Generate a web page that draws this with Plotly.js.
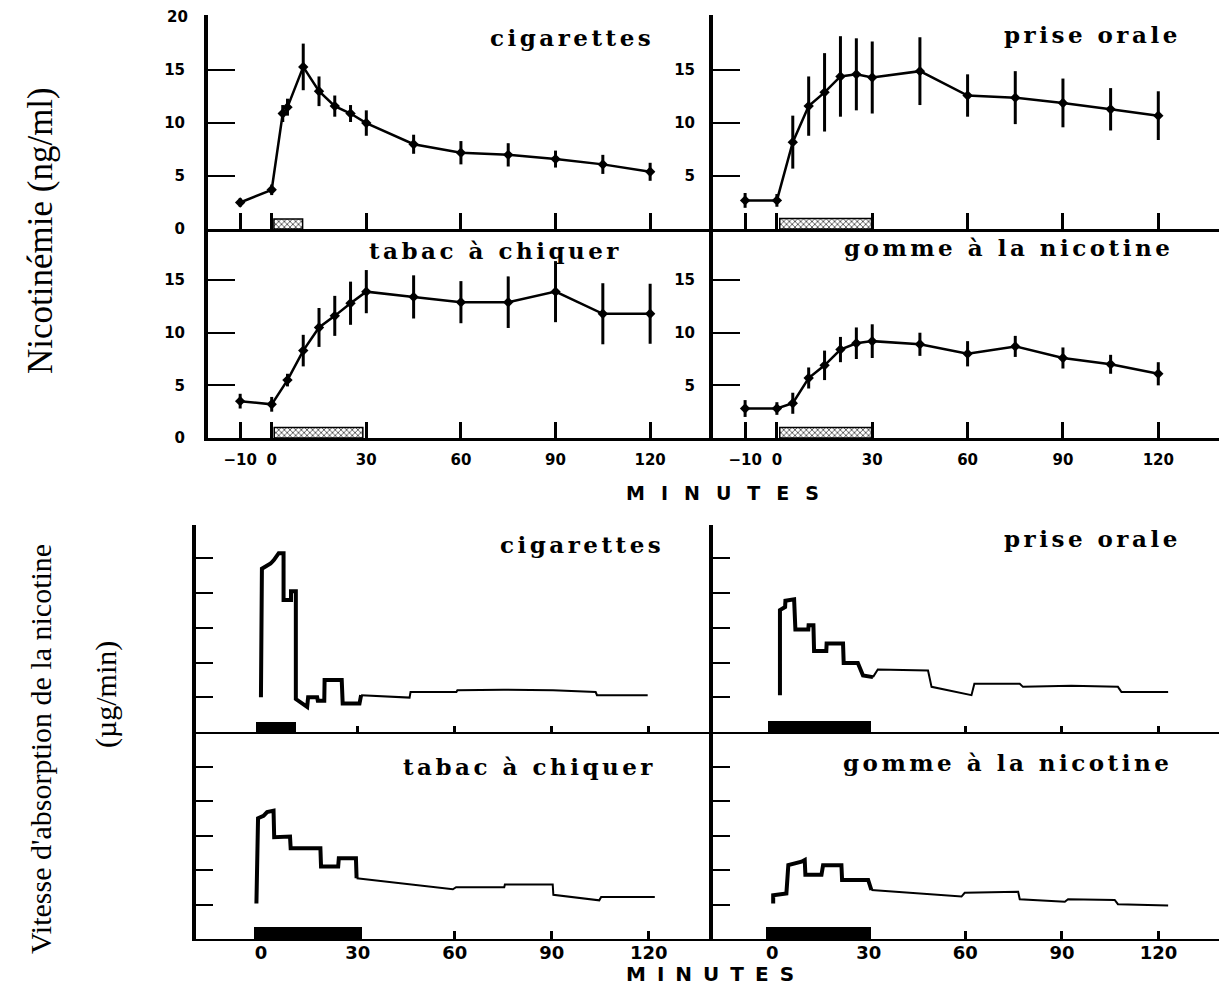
<!DOCTYPE html>
<html><head><meta charset="utf-8">
<script src="https://cdn.plot.ly/plotly-3.0.1.min.js"></script>
<style>html,body{margin:0;padding:0;background:#fff}#chart{width:1219px;height:988px}</style>
</head><body><div id="chart"></div>
<script>
// ---------- data ----------
const panelTitles = ['cigarettes', 'prise orale', 'tabac à chiquer', 'gomme à la nicotine'];
const xTickVals = [-10, 0, 30, 60, 90, 120];
const xTickText = ['−10', '0', '30', '60', '90', '120'];
const botTickVals = [0, 30, 60, 90, 120];
const botTickText = ['0', '30', '60', '90', '120'];
const yTickVals = [0, 5, 10, 15];
const yTickText = ['0', '5', '10', '15'];
const yTopLabel = 20;
const xLabel = 'MINUTES';
const yTitleTop = 'Nicotinémie (ng/ml)';
const yTitleBot = "Vitesse d'absorption de la nicotine";
const yUnitBot = '(µg/min)';

// Nicotinémie (ng/ml), mean ± error
const cigT = [-10, 0, 3.5, 5, 10, 15, 20, 25, 30, 45, 60, 75, 90, 105, 120];
const cigY = [2.5, 3.7, 10.9, 11.5, 15.3, 13.0, 11.6, 10.9, 10.0, 8.0, 7.2, 7.0, 6.6, 6.1, 5.4];
const cigE = [0.4, 0.5, 0.8, 0.8, 2.2, 1.4, 1.0, 0.8, 1.2, 0.9, 1.1, 1.1, 0.8, 0.9, 0.85];

const poT = [-10, 0, 5, 10, 15, 20, 25, 30, 45, 60, 75, 90, 105, 120];
const poY = [2.7, 2.7, 8.2, 11.6, 12.9, 14.4, 14.6, 14.3, 14.9, 12.6, 12.4, 11.9, 11.3, 10.7];
const poE = [0.7, 0.6, 2.5, 2.8, 3.7, 3.8, 3.4, 3.4, 3.2, 2.0, 2.5, 2.3, 2.0, 2.3];

const tcT = [-10, 0, 5, 10, 15, 20, 25, 30, 45, 60, 75, 90, 105, 120];
const tcY = [3.5, 3.2, 5.5, 8.3, 10.5, 11.6, 12.8, 13.9, 13.4, 12.9, 12.9, 13.9, 11.8, 11.8];
const tcE = [0.7, 0.7, 0.6, 1.5, 1.85, 1.9, 2.05, 2.05, 2.05, 2.0, 2.45, 2.9, 2.9, 2.85];

const gmT = [-10, 0, 5, 10, 15, 20, 25, 30, 45, 60, 75, 90, 105, 120];
const gmY = [2.8, 2.8, 3.3, 5.7, 6.9, 8.4, 9.0, 9.2, 8.9, 8.0, 8.7, 7.6, 7.0, 6.1];
const gmE = [0.8, 0.6, 1.0, 1.0, 1.4, 1.2, 1.5, 1.6, 1.1, 1.2, 1.0, 1.0, 0.9, 1.1];

// exposure periods (hatched bars, top; black bars, bottom)
const topExpStart = [0.7, 0.9, 0.8, 0.9];
const topExpEnd = [9.8, 29.8, 28.9, 29.8];
const topExpHeight = [0.95, 1.0, 1.0, 1.0];
const botExpStart = [-1.6, -1.2, -2.0, -1.8];
const botExpEnd = [10.7, 30.8, 31.2, 30.8];
const botExpHeight = [0.3, 0.32, 0.35, 0.34];

// absorption rate (arbitrary tick units), step profiles
const caT = [0, 0.3, 3, 4, 5.5, 7, 7, 9.3, 9.3, 10.8, 10.8, 12.5, 14.3, 14.6, 17.4, 17.6, 19.6, 19.7, 25, 25.3, 30.5, 31, 41.7, 46, 46.3, 60.5, 60.8, 75, 90.4, 103.6, 104, 119.7];
const caY = [1.0, 4.7, 4.85, 4.95, 5.15, 5.15, 3.8, 3.8, 4.05, 4.05, 0.95, 0.85, 0.72, 1.0, 1.0, 0.9, 0.9, 1.5, 1.5, 0.82, 0.82, 1.06, 1.02, 0.99, 1.15, 1.15, 1.2, 1.22, 1.2, 1.15, 1.06, 1.06];

const paT = [2.4, 2.4, 4.0, 4.1, 6.8, 7.2, 11.2, 11.3, 12.8, 13.0, 16.8, 16.9, 22.0, 22.2, 26.6, 28.2, 31.3, 32.8, 48.4, 49.5, 61.9, 62.8, 76.9, 77.9, 92.9, 107.4, 108.5, 123];
const paY = [1.06, 3.51, 3.6, 3.78, 3.82, 2.95, 2.95, 3.07, 3.07, 2.33, 2.33, 2.55, 2.55, 1.99, 1.99, 1.63, 1.58, 1.8, 1.77, 1.3, 1.06, 1.39, 1.39, 1.3, 1.33, 1.3, 1.15, 1.15];

const taT = [-1.4, -0.9, 0.8, 1.9, 3.9, 4.1, 9.0, 9.2, 18.4, 18.6, 23.9, 24.1, 29.4, 29.6, 59.4, 60.4, 75.3, 75.5, 90.3, 90.5, 104.7, 105.3, 121.9];
const taY = [1.03, 3.5, 3.57, 3.68, 3.72, 2.95, 2.97, 2.63, 2.63, 2.10, 2.10, 2.34, 2.34, 1.76, 1.44, 1.50, 1.50, 1.58, 1.58, 1.28, 1.12, 1.22, 1.22];

const gaT = [0.3, 0.3, 4.4, 5.0, 9.1, 10.1, 10.3, 15.3, 15.8, 21.5, 21.7, 29.8, 30.8, 58.8, 59.8, 76.4, 76.9, 90.9, 91.9, 106.4, 107.4, 123];
const gaY = [1.03, 1.27, 1.32, 2.14, 2.24, 2.29, 1.86, 1.86, 2.14, 2.14, 1.71, 1.71, 1.42, 1.23, 1.34, 1.37, 1.15, 1.08, 1.15, 1.13, 1.01, 0.97];

// ---------- drawing ----------
const W = 1219, H = 988;
const fx = v => v / W;
const fy = v => 1 - v / H;
const axN = n => (n === 1 ? '' : String(n));

const traces = [];
const topSeries = [[cigT, cigY, cigE], [poT, poY, poE], [tcT, tcY, tcE], [gmT, gmY, gmE]];
const botSeries = [[caT, caY], [paT, paY], [taT, taY], [gaT, gaY]];

topSeries.forEach((s, i) => {
  const n = i + 1;
  traces.push({
    type: 'bar', x: [(topExpStart[i] + topExpEnd[i]) / 2], y: [topExpHeight[i]],
    width: [topExpEnd[i] - topExpStart[i]], xaxis: 'x' + axN(n), yaxis: 'y' + axN(n),
    marker: {color: '#d8d8d8', pattern: {shape: 'x', fgcolor: '#333', size: 4, solidity: 0.35},
             line: {color: '#000', width: 1.5}},
    hoverinfo: 'skip'
  });
  traces.push({
    type: 'scatter', mode: 'lines+markers', x: s[0], y: s[1],
    xaxis: 'x' + axN(n), yaxis: 'y' + axN(n),
    error_y: {type: 'data', array: s[2], visible: true, thickness: 3, width: 0, color: '#000'},
    line: {color: '#000', width: 2.5},
    marker: {symbol: 'diamond', size: 8, color: '#000'},
    cliponaxis: false
  });
});

const SPLIT = 31.5;
botSeries.forEach((s, i) => {
  const n = i + 5;
  traces.push({
    type: 'bar', x: [(botExpStart[i] + botExpEnd[i]) / 2], y: [botExpHeight[i]],
    width: [botExpEnd[i] - botExpStart[i]], xaxis: 'x' + n, yaxis: 'y' + n,
    marker: {color: '#000', line: {width: 0}}, hoverinfo: 'skip'
  });
  let k = s[0].findIndex(t => t > SPLIT);
  if (k < 0) k = s[0].length;
  traces.push({type: 'scatter', mode: 'lines', x: s[0].slice(0, k), y: s[1].slice(0, k),
    xaxis: 'x' + n, yaxis: 'y' + n, line: {color: '#000', width: 4}});
  traces.push({type: 'scatter', mode: 'lines', x: s[0].slice(k - 1), y: s[1].slice(k - 1),
    xaxis: 'x' + n, yaxis: 'y' + n, line: {color: '#000', width: 2}});
});

const tickFont = {family: 'DejaVu Sans', size: 15, color: '#000', weight: 'bold'};
const botTickFont = {family: 'DejaVu Sans', size: 18, color: '#000', weight: 'bold'};
const base = {showgrid: false, zeroline: false, showline: true, linecolor: '#000',
  ticks: 'inside', tickcolor: '#000', fixedrange: true};

const layout = {
  width: W, height: H, margin: {l: 0, r: 0, t: 0, b: 0},
  paper_bgcolor: '#fff', plot_bgcolor: 'rgba(0,0,0,0)', showlegend: false, bargap: 0,
  annotations: [], font: {family: 'DejaVu Sans', color: '#000'}
};

const LX = [fx(208), fx(711)], RX = [fx(713), 1];
const BLX = [fx(196), fx(712)], BRX = [fx(713), 1];
const topY = [fy(229), fy(15)], midY = [fy(438), fy(229)];
const bUpY = [fy(732), fy(525)], bLoY = [fy(939), fy(732)];

const specs = [
  {n: 1, xd: LX, yd: topY, xr: [-20.2, 139.3], yr: [0, 20.2], xlab: false, yv: yTickVals, left: true},
  {n: 2, xd: RX, yd: topY, xr: [-20.1, 139.1], yr: [0, 20.2], xlab: false, yv: yTickVals.slice(1), left: false},
  {n: 3, xd: LX, yd: midY, xr: [-20.2, 139.3], yr: [0, 19.85], xlab: true, yv: yTickVals, left: true},
  {n: 4, xd: RX, yd: midY, xr: [-20.1, 139.1], yr: [0, 19.85], xlab: true, yv: yTickVals.slice(1), left: false}
];
specs.forEach(s => {
  const k = axN(s.n);
  layout['xaxis' + k] = Object.assign({}, base, {
    domain: s.xd, range: s.xr, anchor: 'y' + k, linewidth: 3,
    ticklen: 16, tickwidth: 3, tickvals: xTickVals, ticktext: xTickText,
    showticklabels: s.xlab, tickfont: tickFont, ticklabelstandoff: 6
  });
  layout['yaxis' + k] = Object.assign({}, base, {
    domain: s.yd, range: s.yr, anchor: 'x' + k, linewidth: 4,
    ticklen: 27, tickwidth: 2, tickvals: s.yv,
    ticktext: s.yv.map(v => yTickText[yTickVals.indexOf(v)]),
    tickfont: tickFont, ticklabelstandoff: s.left ? 16 : 11
  });
});

const bspecs = [
  {n: 5, xd: BLX, yd: bUpY, xr: [-20.1, 139.6], yr: [0, 5.96], lab: false},
  {n: 6, xd: BRX, yd: bUpY, xr: [-18.4, 138.8], yr: [0, 5.96], lab: false},
  {n: 7, xd: BLX, yd: bLoY, xr: [-20.1, 139.6], yr: [0, 6.0], lab: true},
  {n: 8, xd: BRX, yd: bLoY, xr: [-18.4, 138.8], yr: [0, 6.0], lab: true}
];
bspecs.forEach(s => {
  const k = String(s.n);
  layout['xaxis' + k] = Object.assign({}, base, {
    domain: s.xd, range: s.xr, anchor: 'y' + k, linewidth: 2,
    ticklen: s.lab ? 8 : 6, tickwidth: 3,
    tickvals: s.lab ? botTickVals : botTickVals.slice(1), ticktext: s.lab ? botTickText : botTickText.slice(1),
    showticklabels: s.lab, tickfont: botTickFont, ticklabelstandoff: -4
  });
  layout['yaxis' + k] = Object.assign({}, base, {
    domain: s.yd, range: s.yr, anchor: 'x' + k, linewidth: 4,
    ticklen: 17, tickwidth: 2, tickvals: [1, 2, 3, 4, 5], showticklabels: false
  });
});

const ann = layout.annotations;
// "20" label on the top-left axis
ann.push({xref: 'paper', yref: 'y', x: fx(190), y: yTopLabel, text: String(yTopLabel),
  showarrow: false, xanchor: 'right', yanchor: 'middle', font: tickFont});

const titleFont = {family: 'DejaVu Serif', size: 23, color: '#000', weight: 'bold'};
const titlePos = [[572, 38], [1092, 35], [495, 250], [1008, 248], [582, 544], [1092, 538], [529, 766], [1007, 762]];
titlePos.forEach((p, i) => {
  ann.push({xref: 'paper', yref: 'paper', x: fx(p[0]), y: fy(p[1]),
    text: '<span style="letter-spacing:3.5px">' + panelTitles[i % 4] + '</span>',
    showarrow: false, xanchor: 'center', yanchor: 'middle', font: titleFont});
});

ann.push({xref: 'paper', yref: 'paper', x: fx(730), y: fy(493),
  text: '<span style="letter-spacing:16px">' + xLabel + '</span>', showarrow: false,
  xanchor: 'center', yanchor: 'middle', font: {family: 'DejaVu Sans', size: 19, weight: 'bold', color: '#000'}});
ann.push({xref: 'paper', yref: 'paper', x: fx(715), y: 0,
  text: '<span style="letter-spacing:11px">' + xLabel + '</span>', showarrow: false,
  xanchor: 'center', yanchor: 'bottom', font: {family: 'DejaVu Sans', size: 20, weight: 'bold', color: '#000'}});

const serif = {family: 'Liberation Serif', color: '#000'};
ann.push({xref: 'paper', yref: 'paper', x: fx(40), y: fy(231), text: yTitleTop, textangle: -90,
  showarrow: false, xanchor: 'center', yanchor: 'middle', font: Object.assign({size: 35}, serif)});
ann.push({xref: 'paper', yref: 'paper', x: fx(40), y: fy(749), text: yTitleBot, textangle: -90,
  showarrow: false, xanchor: 'center', yanchor: 'middle', font: Object.assign({size: 30}, serif)});
ann.push({xref: 'paper', yref: 'paper', x: fx(106), y: fy(695), text: yUnitBot, textangle: -90,
  showarrow: false, xanchor: 'center', yanchor: 'middle', font: Object.assign({size: 30}, serif)});

Plotly.newPlot('chart', traces, layout, {displayModeBar: false, staticPlot: true});
</script>
</body></html>
